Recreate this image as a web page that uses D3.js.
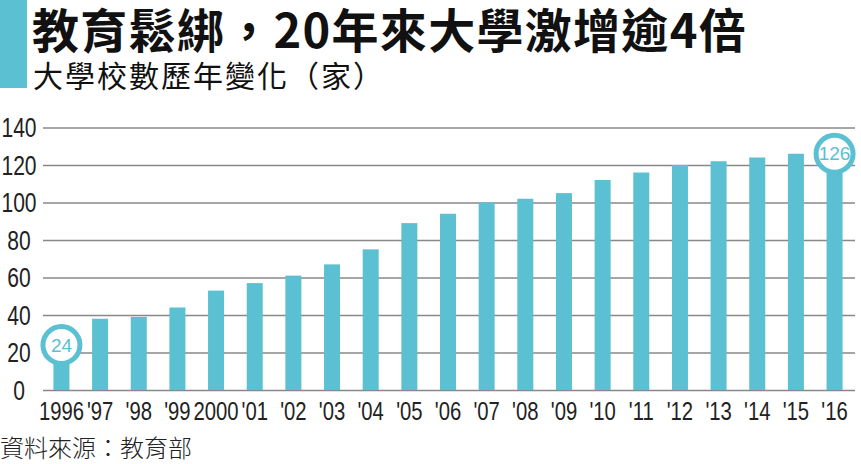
<!DOCTYPE html>
<html>
<head>
<meta charset="utf-8">
<script src="https://cdn.jsdelivr.net/npm/d3@7"></script>
<style>
  html, body { margin: 0; padding: 0; background: #fff; }
  svg { display: block; }
  .num { font-family: "Liberation Sans Narrow", "Liberation Sans", sans-serif; }
  .cjk { font-family: "Noto Sans CJK TC", "Noto Sans CJK SC", sans-serif; }
</style>
</head>
<body>
<div id="chart"></div>
<script>
const years = [1996, 1997, 1998, 1999, 2000, 2001, 2002, 2003, 2004, 2005, 2006,
    2007, 2008, 2009, 2010, 2011, 2012, 2013, 2014, 2015, 2016];
const yearLabels = ["1996", "'97", "'98", "'99", "2000", "'01", "'02", "'03", "'04", "'05", "'06",
    "'07", "'08", "'09", "'10", "'11", "'12", "'13", "'14", "'15", "'16"];
const universities = [24, 38, 39, 44, 53, 57, 61, 67, 75, 89, 94,
    100, 102, 105, 112, 116, 120, 122, 124, 126, 126];
const yTicks = [0, 20, 40, 60, 80, 100, 120, 140];
const highlighted = [1996, 2016];

const width = 861, height = 464;
const teal = "#5bc0d1";

const svg = d3.select("#chart")
    .append("svg")
        .attr("width", width)
        .attr("height", height);

// Header block
svg.append("rect")
    .attr("x", 0).attr("y", 0)
    .attr("width", 27).attr("height", 88)
    .attr("fill", teal);

svg.append("text")
    .attr("class", "cjk")
    .attr("x", 32).attr("y", 48)
    .attr("font-size", 47)
    .attr("font-weight", 700)
    .attr("letter-spacing", 1.3)
    .attr("fill", "#111")
    .text("教育鬆綁，20年來大學激增逾4倍");

svg.append("text")
    .attr("class", "cjk")
    .attr("x", 33).attr("y", 87)
    .attr("font-size", 30)
    .attr("letter-spacing", 2)
    .attr("fill", "#111")
    .text("大學校數歷年變化（家）");

const x = d3.scaleBand()
    .domain(years)
    .range([43, 853])
    .paddingInner(0.586)
    .paddingOuter(0.27);

const y = d3.scaleLinear()
    .domain([0, 140])
    .range([390, 127.5]);

// Gridlines + y labels
const yAxis = svg.append("g")
    .attr("transform", "translate(43,0)")
    .call(d3.axisLeft(y).tickValues(yTicks).tickSize(-(855 - 43)).tickFormat(d3.format("d")));

yAxis.select(".domain").remove();
yAxis.selectAll(".tick line")
    .attr("stroke", "#888")
    .attr("stroke-width", 1.5);
yAxis.selectAll(".tick text")
    .attr("class", "num")
    .attr("x", null)
    .attr("dy", null)
    .attr("text-anchor", "middle")
    .attr("dominant-baseline", "central")
    .attr("font-size", 27)
    .attr("fill", "#222")
    .attr("transform", "translate(-24,0) scale(0.78,1)");

// Bars
svg.append("g")
    .selectAll("rect")
    .data(universities)
    .join("rect")
        .attr("x", (d, i) => x(years[i]))
        .attr("y", d => y(d))
        .attr("width", x.bandwidth())
        .attr("height", d => y(0) - y(d))
        .attr("fill", teal);

// X labels
const xAxis = svg.append("g")
    .attr("transform", "translate(0,390)")
    .call(d3.axisBottom(x).tickSize(0).tickFormat((d, i) => yearLabels[i]));

xAxis.select(".domain").remove();
xAxis.selectAll(".tick text")
    .attr("class", "num")
    .attr("y", null)
    .attr("dy", null)
    .attr("font-size", 26)
    .attr("fill", "#222")
    .attr("transform", "translate(0,30) scale(0.78,1)");

// Highlight bubbles
const marks = svg.append("g")
    .selectAll("g")
    .data(years.map((yr, i) => ({year: yr, value: universities[i]}))
        .filter(d => highlighted.includes(d.year)))
    .join("g")
        .attr("transform", d => "translate(" + (x(d.year) + x.bandwidth() / 2) + "," + y(d.value) + ")");

marks.append("circle")
    .attr("r", 18.5)
    .attr("fill", "#fff")
    .attr("stroke", teal)
    .attr("stroke-width", 5);

marks.append("text")
    .attr("class", "num")
    .attr("text-anchor", "middle")
    .attr("dominant-baseline", "central")
    .attr("font-size", 19)
    .attr("fill", teal)
    .text(d => d.value);

// Source
svg.append("text")
    .attr("class", "cjk")
    .attr("x", 0).attr("y", 457)
    .attr("font-size", 24)
    .attr("font-weight", 300)
    .attr("fill", "#222")
    .text("資料來源：教育部");
</script>
</body>
</html>
